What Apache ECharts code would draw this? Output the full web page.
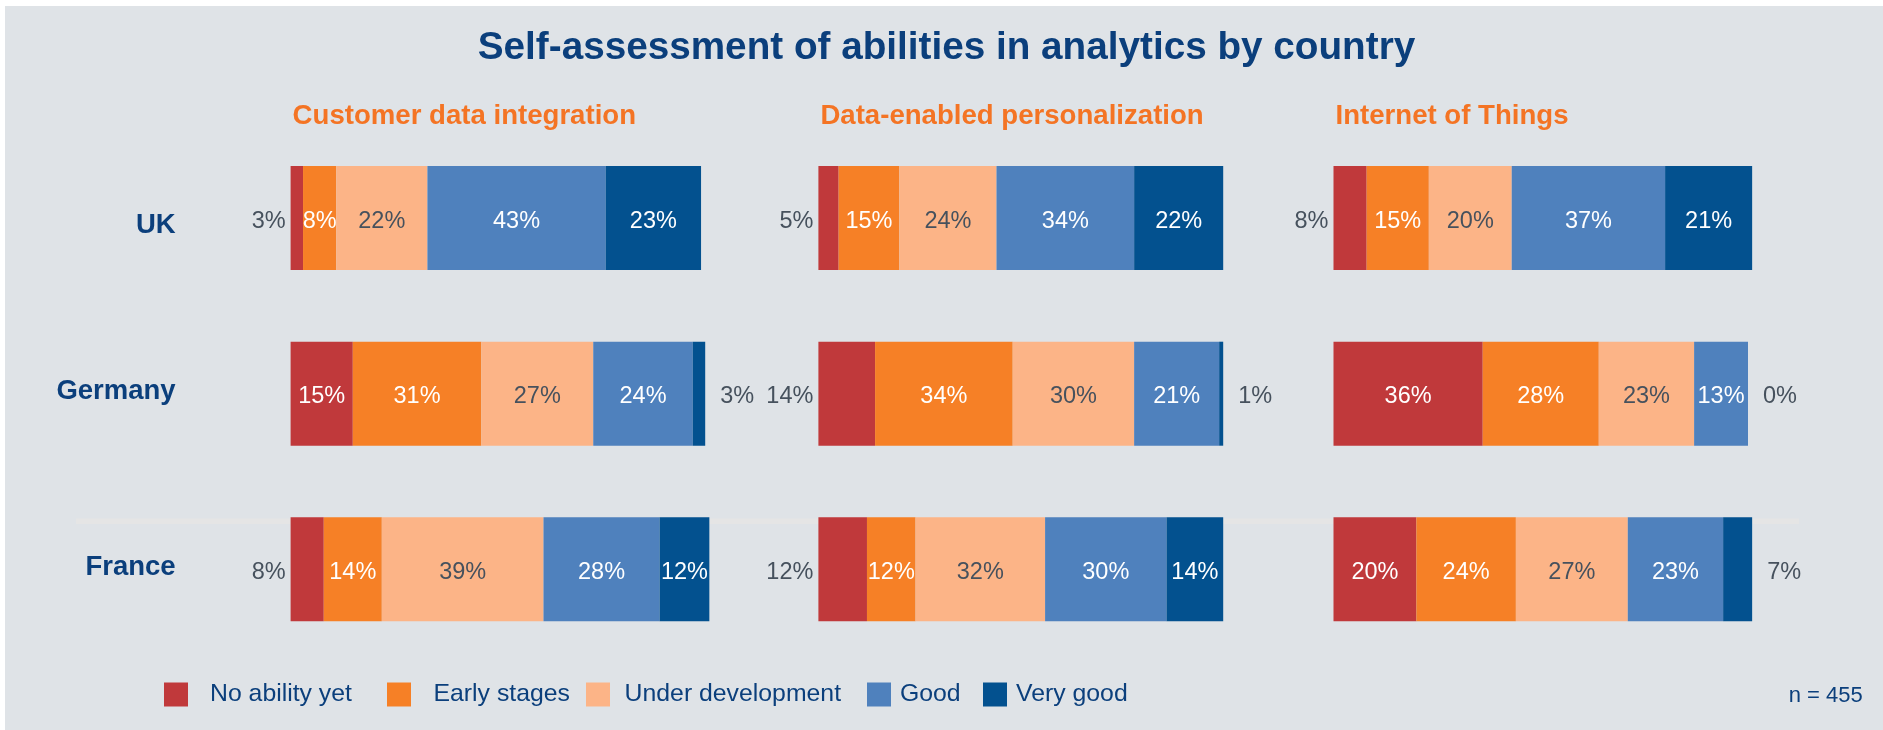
<!DOCTYPE html>
<html>
<head>
<meta charset="utf-8">
<script src="https://cdn.jsdelivr.net/npm/echarts@6/dist/echarts.min.js"></script>
<style>
  html, body { margin: 0; padding: 0; background: #ffffff; }
  #chart { width: 1883px; height: 730px; }
</style>
</head>
<body>
<div id="chart"></div>
<script>
// ---- data ----
const levels = ['No ability yet', 'Early stages', 'Under development', 'Good', 'Very good'];
const countries = ['UK', 'Germany', 'France'];
const topics = ['Customer data integration', 'Data-enabled personalization', 'Internet of Things'];
// rows follow `countries`, columns follow `levels` (percent of respondents)
const customerDataIntegration = [[3, 8, 22, 43, 23], [15, 31, 27, 24, 3], [8, 14, 39, 28, 12]];
const dataEnabledPersonalization = [[5, 15, 24, 34, 22], [14, 34, 30, 21, 1], [12, 12, 32, 30, 14]];
const internetOfThings = [[8, 15, 20, 37, 21], [36, 28, 23, 13, 0], [20, 24, 27, 23, 7]];
const chartTitle = 'Self-assessment of abilities in analytics by country';
const sampleNote = 'n = 455';

// ---- styling / layout ----
const panels = [customerDataIntegration, dataEnabledPersonalization, internetOfThings];
const levelColors = ['#c0393b', '#f68026', '#fcb487', '#4f81bd', '#03518f'];
const navy = '#0b3f7c';
const orange = '#f47424';
const valueGrey = '#46515d';
const font = 'Arial, "Liberation Sans", Helvetica, sans-serif';
const gridLefts = [290.6, 818.4, 1333.5];
const gridWidths = [414.6, 404.8, 414.5];
const gridTop = 130.3;
const gridHeight = 526.8;
// vertical nudges for the country names (rich-text padding)
const rowLabelRich = {
  r0: { padding: [14, 0, 0, 0] },
  r1: { padding: [0, 0, 4, 0] },
  r2: { padding: [0, 0, 4, 0] }
};
const legendLefts = [164, 387, 586, 867, 983];
const legendTextGaps = [17, 17.5, 9.6, 4, 4];

const chart = echarts.init(document.getElementById('chart'), null, { renderer: 'canvas' });

const grids = [], xAxes = [], yAxes = [], series = [];
panels.forEach((rows, p) => {
  grids.push({ left: gridLefts[p], width: gridWidths[p], top: gridTop, height: gridHeight, containLabel: false });
  xAxes.push({ gridIndex: p, type: 'value', min: 0, max: 100, show: false });
  yAxes.push({
    gridIndex: p,
    type: 'category',
    inverse: true,
    data: countries,
    axisLine: { show: false },
    axisTick: { show: false },
    splitLine: { show: false },
    axisLabel: {
      show: p === 0,
      margin: 115,
      color: navy,
      fontFamily: font,
      fontWeight: 'bold',
      fontSize: 27.5,
      formatter: (value, index) => '{r' + index + '|' + value + '}',
      rich: rowLabelRich
    }
  });
  levels.forEach((lvl, k) => {
    series.push({
      name: lvl,
      type: 'bar',
      stack: 'panel' + p,
      xAxisIndex: p,
      yAxisIndex: p,
      barWidth: 104,
      clip: false,
      itemStyle: { color: levelColors[k] },
      label: {
        show: true,
        position: 'inside',
        offset: [0, 3],
        formatter: '{c}%',
        fontFamily: font,
        fontSize: 23.5,
        color: k === 2 ? valueGrey : '#ffffff'
      },
      data: rows.map(row => {
        const v = row[k];
        if (k === 0 && v < 15) {
          return { value: v, label: { position: 'left', distance: 5, color: valueGrey } };
        }
        if (k === 4 && v < 10) {
          return { value: v, label: { position: 'right', distance: 15, color: valueGrey } };
        }
        return v;
      })
    });
  });
});

const titles = [
  {
    text: chartTitle,
    left: 946.5,
    textAlign: 'center',
    top: 29,
    padding: 0,
    textStyle: { color: navy, fontFamily: font, fontWeight: 'bold', fontSize: 38.7 }
  },
  {
    text: sampleNote,
    left: 1788.7,
    top: 684.5,
    padding: 0,
    textStyle: { color: navy, fontFamily: font, fontWeight: 'normal', fontSize: 22 }
  }
];
topics.forEach((t, p) => {
  titles.push({
    text: t,
    left: gridLefts[p] + 2,
    top: 102.5,
    padding: 0,
    textStyle: { color: orange, fontFamily: font, fontWeight: 'bold', fontSize: 27.6 }
  });
});

const legends = levels.map((lvl, k) => ({
  data: [lvl],
  left: legendLefts[k],
  top: 682,
  padding: 0,
  itemWidth: 24,
  itemHeight: 24,
  icon: 'rect',
  selectedMode: true,
  textStyle: {
    color: navy,
    fontFamily: font,
    fontSize: 24.8,
    padding: [3, 0, 0, legendTextGaps[k]]
  }
}));

chart.setOption({
  backgroundColor: '#ffffff',
  animation: false,
  graphic: [
    // panel background inside the thin white frame
    { type: 'rect', z: -20, silent: true, shape: { x: 5, y: 6, width: 1878, height: 724 }, style: { fill: '#dfe3e7' } },
    // faint rule behind the France row
    { type: 'rect', z: -19, silent: true, shape: { x: 76, y: 518.5, width: 1723, height: 5.5 }, style: { fill: '#e5e5e5' } }
  ],
  title: titles,
  legend: legends,
  grid: grids,
  xAxis: xAxes,
  yAxis: yAxes,
  series: series
});
</script>
</body>
</html>
